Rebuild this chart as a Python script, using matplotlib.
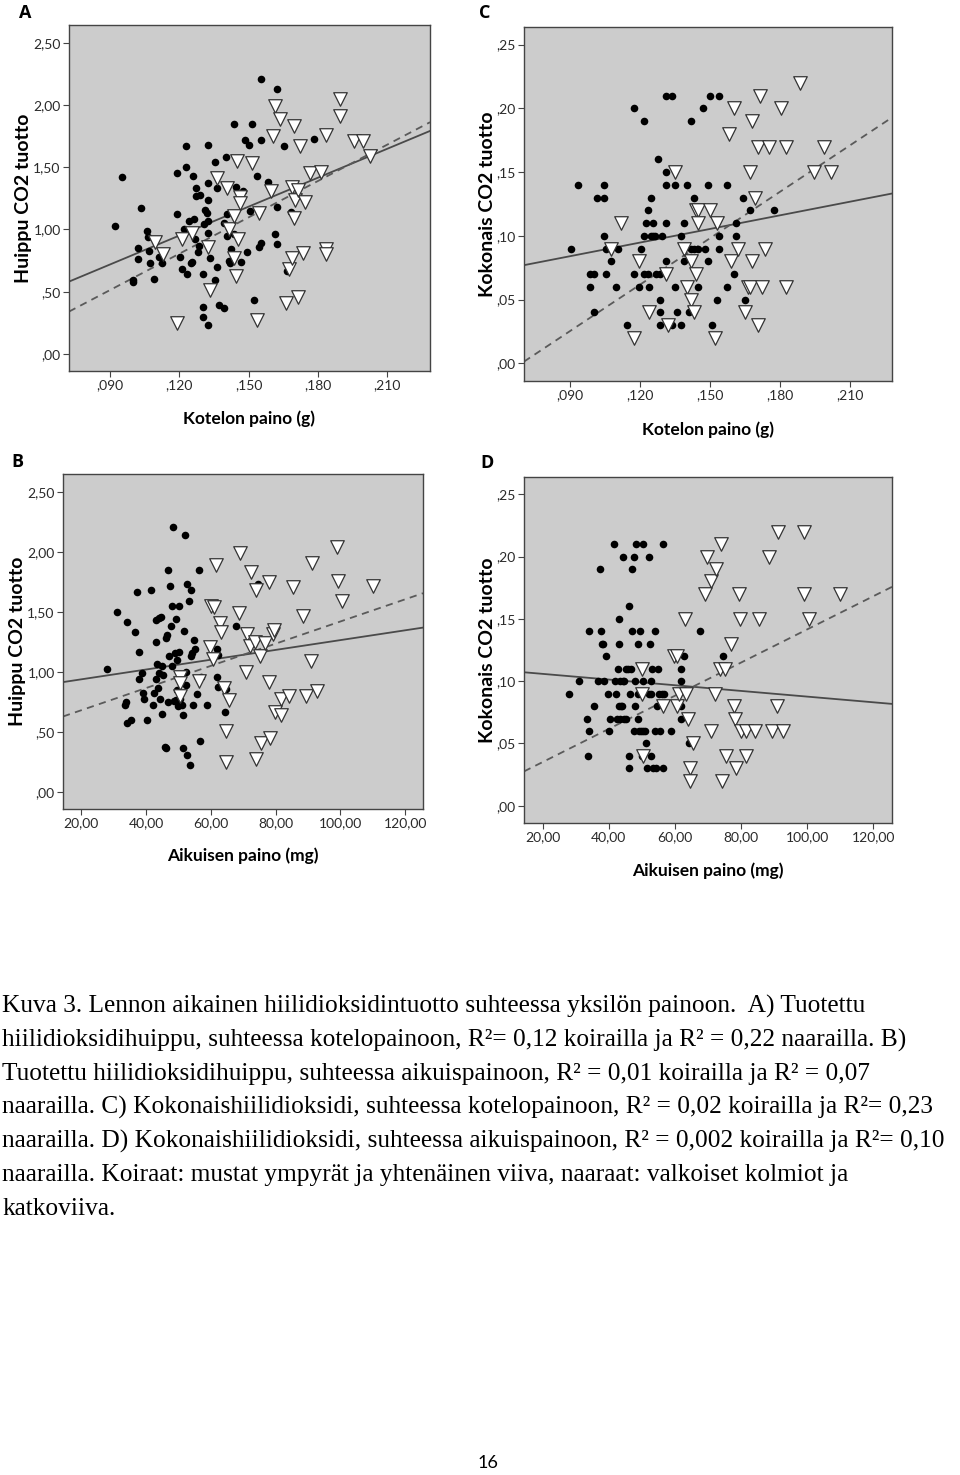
import matplotlib
matplotlib.use("Agg")
import matplotlib.pyplot as plt
import numpy as np

# ---- Panel A: Huippu CO2 tuotto vs Kotelon paino ----
a_male_x = [0.0922, 0.0952, 0.1032, 0.1021, 0.1023, 0.1062, 0.1063, 0.1069, 0.1072, 0.1001,
            0.1001, 0.1091, 0.1111, 0.1123, 0.1192, 0.1192, 0.1201, 0.1212, 0.1222, 0.1231,
            0.1231, 0.1233, 0.1241, 0.1263, 0.1259, 0.1251, 0.1253, 0.1267, 0.1273, 0.1273,
            0.1290, 0.1285, 0.1283, 0.1306, 0.1303, 0.1303, 0.1303, 0.1311, 0.1321, 0.1324,
            0.1324, 0.1324, 0.1324, 0.1324, 0.1334, 0.1324, 0.1353, 0.1354, 0.1364, 0.1364,
            0.1374, 0.1395, 0.1403, 0.1395, 0.1406, 0.1406, 0.1415, 0.1421, 0.1423, 0.1435,
            0.1435, 0.1445, 0.1476, 0.1467, 0.1486, 0.1503, 0.1494, 0.1504, 0.1515, 0.1536,
            0.1525, 0.1546, 0.1554, 0.1555, 0.1555, 0.1584, 0.1614, 0.1623, 0.1624, 0.1624,
            0.1655, 0.1666, 0.1684, 0.1785]
a_male_y = [1.03, 1.42, 1.17, 0.85, 0.76, 0.99, 0.94, 0.83, 0.73, 0.59,
            0.58, 0.60, 0.78, 0.73, 1.45, 1.12, 0.78, 0.68, 1.00, 1.67,
            1.50, 0.64, 1.07, 1.08, 1.43, 0.73, 0.74, 0.92, 1.33, 1.27,
            1.28, 0.87, 0.82, 1.04, 0.64, 0.38, 0.30, 1.16, 1.13, 1.68,
            1.37, 1.24, 1.07, 0.97, 0.77, 0.23, 1.54, 0.59, 1.33, 0.70,
            0.39, 0.37, 1.58, 1.05, 1.12, 0.95, 0.75, 0.73, 0.84, 1.85,
            0.96, 1.34, 1.31, 0.74, 1.72, 1.68, 0.82, 1.15, 1.85, 1.43,
            0.43, 0.86, 0.89, 1.72, 2.21, 1.38, 0.96, 2.13, 1.18, 0.88,
            1.67, 0.67, 1.14, 1.73]
a_female_x = [0.1094, 0.1131, 0.1192, 0.1212, 0.1256, 0.1324, 0.1334, 0.1364, 0.1406, 0.1415,
              0.1435, 0.1435, 0.1444, 0.1452, 0.1454, 0.1461, 0.1464, 0.1516, 0.1535, 0.1545,
              0.1597, 0.1606, 0.1614, 0.1635, 0.1663, 0.1674, 0.1687, 0.1687, 0.1695, 0.1703,
              0.1713, 0.1695, 0.1714, 0.1724, 0.1734, 0.1743, 0.1765, 0.1815, 0.1836, 0.1836,
              0.1836, 0.1896, 0.1896, 0.1957, 0.1996, 0.2025]
a_female_y = [0.90, 0.80, 0.25, 0.92, 0.97, 0.86, 0.51, 1.41, 1.33, 1.00,
              1.11, 0.77, 0.63, 1.55, 0.92, 1.26, 1.21, 1.53, 0.27, 1.13,
              1.31, 1.75, 1.99, 1.89, 0.41, 0.68, 0.77, 1.34, 1.83, 1.24,
              1.32, 1.09, 0.46, 1.67, 0.81, 1.22, 1.45, 1.46, 1.76, 0.84,
              0.80, 2.05, 1.91, 1.71, 1.71, 1.59]

# ---- Panel C: Kokonais CO2 tuotto vs Kotelon paino ----
c_male_x = [0.0903, 0.0933, 0.0984, 0.0984, 0.1004, 0.1004, 0.1014, 0.1044, 0.1044, 0.1044,
            0.1054, 0.1054, 0.1074, 0.1096, 0.1106, 0.1146, 0.1176, 0.1176, 0.1197, 0.1206,
            0.1216, 0.1216, 0.1216, 0.1226, 0.1236, 0.1236, 0.1237, 0.1246, 0.1246, 0.1254,
            0.1254, 0.1264, 0.1267, 0.1276, 0.1286, 0.1287, 0.1287, 0.1287, 0.1296, 0.1309,
            0.1309, 0.1309, 0.1309, 0.1309, 0.1337, 0.1337, 0.1349, 0.1349, 0.1359, 0.1377,
            0.1377, 0.1389, 0.1389, 0.1399, 0.1409, 0.1419, 0.1419, 0.1429, 0.1429, 0.1450,
            0.1450, 0.1470, 0.1480, 0.1490, 0.1490, 0.1500, 0.1510, 0.1530, 0.1540, 0.1540,
            0.1540, 0.1571, 0.1571, 0.1601, 0.1610, 0.1610, 0.1641, 0.1651, 0.1671, 0.1773]
c_male_y = [0.09, 0.14, 0.07, 0.06, 0.07, 0.04, 0.13, 0.13, 0.14, 0.10,
            0.09, 0.07, 0.08, 0.06, 0.09, 0.03, 0.20, 0.07, 0.06, 0.09,
            0.19, 0.10, 0.07, 0.11, 0.12, 0.07, 0.06, 0.13, 0.10, 0.11,
            0.10, 0.10, 0.07, 0.16, 0.07, 0.05, 0.04, 0.03, 0.10, 0.21,
            0.15, 0.14, 0.11, 0.08, 0.21, 0.03, 0.14, 0.06, 0.04, 0.10,
            0.03, 0.11, 0.08, 0.14, 0.04, 0.19, 0.09, 0.13, 0.09, 0.09,
            0.06, 0.20, 0.09, 0.14, 0.08, 0.21, 0.03, 0.05, 0.21, 0.10,
            0.09, 0.14, 0.06, 0.07, 0.11, 0.10, 0.13, 0.05, 0.12, 0.12]
c_female_x = [0.1117, 0.1076, 0.1197, 0.1176, 0.1237, 0.1309, 0.1319, 0.1349, 0.1389, 0.1399,
              0.1419, 0.1419, 0.1429, 0.1439, 0.1449, 0.1449, 0.1439, 0.1500, 0.1520, 0.1530,
              0.1581, 0.1591, 0.1601, 0.1621, 0.1651, 0.1661, 0.1671, 0.1671, 0.1681, 0.1681,
              0.1691, 0.1703, 0.1703, 0.1713, 0.1723, 0.1733, 0.1753, 0.1804, 0.1824, 0.1824,
              0.1886, 0.1947, 0.1987, 0.2017]
c_female_y = [0.11, 0.09, 0.08, 0.02, 0.04, 0.07, 0.03, 0.15, 0.09, 0.06,
              0.08, 0.05, 0.04, 0.12, 0.12, 0.11, 0.07, 0.12, 0.02, 0.11,
              0.18, 0.08, 0.20, 0.09, 0.04, 0.06, 0.06, 0.15, 0.19, 0.08,
              0.13, 0.17, 0.03, 0.21, 0.06, 0.09, 0.17, 0.20, 0.17, 0.06,
              0.22, 0.15, 0.17, 0.15]

# ---- Panel B: Huippu CO2 tuotto vs Aikuisen paino ----
b_male_x = [27.91, 31.00, 33.98, 33.67, 33.46, 34.08, 35.31, 36.55, 37.27, 37.68,
            37.88, 38.70, 38.91, 39.42, 40.35, 41.48, 42.10, 42.40, 43.02, 43.02,
            43.12, 43.33, 43.53, 43.95, 44.05, 44.25, 44.46, 44.77, 44.97, 45.18,
            45.80, 46.10, 46.10, 46.41, 46.72, 46.72, 47.23, 47.54, 47.65, 47.85,
            48.06, 48.57, 48.26, 48.78, 49.29, 49.39, 49.50, 49.60, 49.91, 50.21,
            50.21, 50.52, 51.04, 51.35, 51.55, 51.86, 52.17, 52.37, 52.37, 52.58,
            52.78, 53.20, 53.50, 53.81, 54.02, 54.22, 54.43, 54.84, 55.25, 55.66,
            56.48, 56.69, 56.89, 58.95, 61.93, 62.34, 61.93, 62.14, 64.40, 64.71,
            67.69, 74.67]
b_male_y = [1.03, 1.50, 1.42, 0.75, 0.73, 0.58, 0.60, 1.33, 1.67, 0.94,
            1.17, 0.99, 0.83, 0.78, 0.60, 1.68, 0.73, 0.83, 1.25, 1.43,
            0.94, 1.07, 0.87, 1.45, 0.99, 0.78, 1.46, 1.05, 0.65, 0.98,
            0.38, 1.28, 0.37, 1.31, 1.85, 0.75, 1.13, 1.72, 1.38, 1.05,
            1.55, 0.76, 2.21, 1.16, 0.77, 1.44, 1.10, 0.85, 0.72, 1.17,
            1.55, 0.78, 0.73, 0.64, 0.37, 1.34, 2.14, 1.00, 0.89, 1.73,
            0.31, 1.59, 0.23, 1.68, 1.13, 1.16, 0.73, 1.27, 1.19, 0.82,
            1.85, 0.43, 0.96, 0.73, 1.19, 1.14, 0.96, 0.88, 0.67, 0.86,
            1.38, 1.73]
b_female_x = [50.52, 50.52, 50.32, 56.38, 59.77, 59.98, 60.90, 60.80, 61.62, 62.96,
              63.16, 64.60, 64.60, 64.19, 65.53, 69.02, 68.82, 70.87, 71.08, 72.10,
              72.41, 73.75, 73.95, 73.95, 75.29, 75.49, 76.73, 77.86, 78.06, 78.37,
              79.30, 79.61, 79.81, 81.66, 81.66, 84.23, 85.46, 88.55, 89.37, 90.81,
              91.32, 92.66, 99.03, 99.24, 100.37, 109.92]
b_female_y = [0.96, 0.91, 0.80, 0.93, 1.21, 1.55, 1.54, 1.11, 1.89, 1.41,
              1.33, 0.25, 0.51, 0.87, 0.77, 1.99, 1.49, 1.00, 1.32, 1.22,
              1.83, 1.25, 1.68, 0.28, 1.13, 0.41, 1.24, 1.75, 0.92, 0.45,
              1.32, 1.35, 0.67, 0.78, 0.64, 0.80, 1.71, 1.47, 0.80, 1.09,
              1.91, 0.84, 2.04, 1.76, 1.59, 1.72]

# ---- Panel D: Kokonais CO2 tuotto vs Aikuisen paino ----
d_male_x = [27.96, 31.09, 33.31, 34.01, 33.81, 35.42, 34.01, 36.63, 37.34, 37.64,
            37.94, 38.25, 38.65, 39.05, 39.86, 39.96, 40.36, 41.47, 41.97, 42.08,
            42.38, 42.78, 42.98, 43.09, 43.19, 43.29, 43.39, 43.59, 43.99, 44.19,
            44.40, 44.50, 44.60, 45.10, 45.30, 45.81, 46.11, 46.11, 46.11, 46.41,
            46.71, 47.02, 47.02, 47.52, 47.82, 47.92, 47.62, 48.33, 48.83, 48.93,
            48.93, 49.13, 49.44, 49.64, 49.94, 50.24, 50.34, 50.44, 51.05, 51.25,
            51.55, 52.06, 52.26, 52.36, 52.66, 52.66, 52.76, 52.97, 53.37, 54.07,
            54.07, 54.38, 54.58, 54.78, 55.28, 55.38, 55.99, 56.39, 56.49, 56.70,
            58.91, 61.74, 61.74, 61.74, 61.94, 62.64, 64.26, 67.58, 74.64]
d_male_y = [0.09, 0.10, 0.07, 0.06, 0.04, 0.08, 0.14, 0.10, 0.19, 0.14,
            0.13, 0.13, 0.10, 0.12, 0.09, 0.06, 0.07, 0.21, 0.10, 0.09,
            0.07, 0.11, 0.08, 0.15, 0.13, 0.10, 0.07, 0.08, 0.08, 0.10,
            0.20, 0.10, 0.07, 0.07, 0.11, 0.11, 0.16, 0.04, 0.03, 0.09,
            0.11, 0.14, 0.19, 0.20, 0.10, 0.08, 0.06, 0.21, 0.09, 0.07,
            0.13, 0.06, 0.14, 0.06, 0.04, 0.10, 0.21, 0.06, 0.06, 0.05,
            0.03, 0.09, 0.20, 0.13, 0.10, 0.09, 0.04, 0.11, 0.03, 0.14,
            0.06, 0.03, 0.08, 0.11, 0.09, 0.06, 0.09, 0.21, 0.03, 0.09,
            0.06, 0.08, 0.10, 0.07, 0.11, 0.12, 0.05, 0.14, 0.12]
d_female_x = [50.14, 50.14, 50.34, 56.29, 59.72, 60.53, 60.73, 61.33, 63.15, 63.35,
              64.05, 64.56, 64.56, 65.57, 69.08, 69.60, 70.81, 71.01, 72.22, 72.42,
              73.63, 74.03, 74.14, 75.24, 75.45, 76.86, 77.86, 78.17, 78.37, 79.48,
              79.68, 79.88, 81.59, 81.59, 84.11, 85.32, 88.55, 89.36, 90.77, 91.27,
              92.58, 99.14, 99.14, 100.65, 109.92]
d_female_y = [0.11, 0.09, 0.04, 0.08, 0.12, 0.12, 0.08, 0.09, 0.15, 0.09,
              0.07, 0.03, 0.02, 0.05, 0.17, 0.20, 0.06, 0.18, 0.09, 0.19,
              0.11, 0.21, 0.02, 0.11, 0.04, 0.13, 0.08, 0.07, 0.03, 0.17,
              0.15, 0.06, 0.06, 0.04, 0.06, 0.15, 0.20, 0.06, 0.08, 0.22,
              0.06, 0.22, 0.17, 0.15, 0.17]

# fitted lines: (intercept, slope)
a_fit_male, a_fit_female = (0.0224, 7.737), (-0.362, 9.725)
c_fit_male, c_fit_female = (0.0519, 0.3566), (-0.0841, 1.2151)
b_fit_male, b_fit_female = (0.8585, 0.004076), (0.4987, 0.009222)
d_fit_male, d_fit_female = (0.1104, -0.0002283), (0.0084, 0.001332)

# axis ticks and labels
kotelo_ticks = [0.090, 0.120, 0.150, 0.180, 0.210]
kotelo_labels = [",090", ",120", ",150", ",180", ",210"]
aikuinen_ticks = [20, 40, 60, 80, 100, 120]
aikuinen_labels = ["20,00", "40,00", "60,00", "80,00", "100,00", "120,00"]
huippu_ticks = [0, 0.5, 1.0, 1.5, 2.0, 2.5]
huippu_labels = [",00", ",50", "1,00", "1,50", "2,00", "2,50"]
kokonais_ticks = [0, 0.05, 0.10, 0.15, 0.20, 0.25]
kokonais_labels = [",00", ",05", ",10", ",15", ",20", ",25"]

caption_lines = [
    "Kuva 3. Lennon aikainen hiilidioksidintuotto suhteessa yksilön painoon.  A) Tuotettu",
    "hiilidioksidihuippu, suhteessa kotelopainoon, R²= 0,12 koirailla ja R² = 0,22 naarailla. B)",
    "Tuotettu hiilidioksidihuippu, suhteessa aikuispainoon, R² = 0,01 koirailla ja R² = 0,07",
    "naarailla. C) Kokonaishiilidioksidi, suhteessa kotelopainoon, R² = 0,02 koirailla ja R²= 0,23",
    "naarailla. D) Kokonaishiilidioksidi, suhteessa aikuispainoon, R² = 0,002 koirailla ja R²= 0,10",
    "naarailla. Koiraat: mustat ympyrät ja yhtenäinen viiva, naaraat: valkoiset kolmiot ja",
    "katkoviiva.",
]

W, H = 960, 1475
SANS = ["Lato", "DejaVu Sans"]


def px_rect(left, top, right, bottom):
    return [left / W, 1 - bottom / H, (right - left) / W, (bottom - top) / H]


def panel(ax, mx, my, fx, fy, fit_m, fit_f, xlim, ylim,
          xt, xl, yt, yl, xlabel, ylabel, ylab_x):
    ax.set_facecolor("#cccccc")
    ax.scatter(mx, my, s=30, color="black", zorder=3, linewidths=0)
    ax.scatter(fx, fy, s=95, marker="v", facecolor="white",
               edgecolor="#333333", linewidths=0.9, zorder=4)
    xs = np.array(xlim)
    ax.plot(xs, fit_m[0] + fit_m[1] * xs, color="#4a4a4a", lw=1.3, zorder=2)
    ax.plot(xs, fit_f[0] + fit_f[1] * xs, color="#5a5a5a", lw=1.3,
            ls=(0, (4, 3)), zorder=2)
    ax.set_xlim(xlim)
    ax.set_ylim(ylim)
    ax.set_xticks(xt)
    ax.set_xticklabels(xl, family=SANS, fontsize=10, color="#2a2a2a")
    ax.set_yticks(yt)
    ax.set_yticklabels(yl, family=SANS, fontsize=10, color="#2a2a2a")
    ax.tick_params(length=4, width=0.8, color="#444444", pad=2)
    for s in ax.spines.values():
        s.set_color("#444444")
        s.set_linewidth(1.0)
    ax.set_xlabel(xlabel, family=SANS, fontweight="bold", fontsize=12.5)
    ax.xaxis.set_label_coords(0.5, -0.115)
    ax.set_ylabel(ylabel, family=SANS, fontweight="bold", fontsize=14, va="center")
    ax.yaxis.set_label_coords(ylab_x, 0.5)


fig = plt.figure(figsize=(9.6, 14.75), dpi=100)
fig.patch.set_facecolor("white")

axA = fig.add_axes(px_rect(69, 25, 430, 371))
panel(axA, a_male_x, a_male_y, a_female_x, a_female_y, a_fit_male, a_fit_female,
      (0.0722, 0.2286), (-0.137, 2.642), kotelo_ticks, kotelo_labels,
      huippu_ticks, huippu_labels, "Kotelon paino (g)", "Huippu CO2 tuotto", -0.125)

axC = fig.add_axes(px_rect(524, 27, 892, 381))
panel(axC, c_male_x, c_male_y, c_female_x, c_female_y, c_fit_male, c_fit_female,
      (0.0703, 0.2279), (-0.0139, 0.2638), kotelo_ticks, kotelo_labels,
      kokonais_ticks, kokonais_labels, "Kotelon paino (g)", "Kokonais CO2 tuotto", -0.100)

axB = fig.add_axes(px_rect(63, 474, 423, 809))
panel(axB, b_male_x, b_male_y, b_female_x, b_female_y, b_fit_male, b_fit_female,
      (14.35, 125.5), (-0.138, 2.647), aikuinen_ticks, aikuinen_labels,
      huippu_ticks, huippu_labels, "Aikuisen paino (mg)", "Huippu CO2 tuotto", -0.127)

axD = fig.add_axes(px_rect(524, 477, 892, 823))
panel(axD, d_male_x, d_male_y, d_female_x, d_female_y, d_fit_male, d_fit_female,
      (14.35, 125.6), (-0.0139, 0.2639), aikuinen_ticks, aikuinen_labels,
      kokonais_ticks, kokonais_labels, "Aikuisen paino (mg)", "Kokonais CO2 tuotto", -0.100)

# panel letters
for letter, (lx, ly) in zip("ACBD", [(25, 13), (485, 13), (17, 462), (487, 463)]):
    fig.text(lx / W, 1 - ly / H, letter, family="Open Sans", fontweight="bold",
             fontsize=13, ha="center", va="center")

# caption
for i, line in enumerate(caption_lines):
    fig.text(2 / W, 1 - (1013 + 33.6 * i) / H, line, family="Liberation Serif",
             fontsize=18.3, ha="left", va="baseline")

fig.text(488 / W, 1 - 1463 / H, "16", family="Lato", fontsize=13, ha="center", va="center")

fig.savefig("out.png", dpi=100)
